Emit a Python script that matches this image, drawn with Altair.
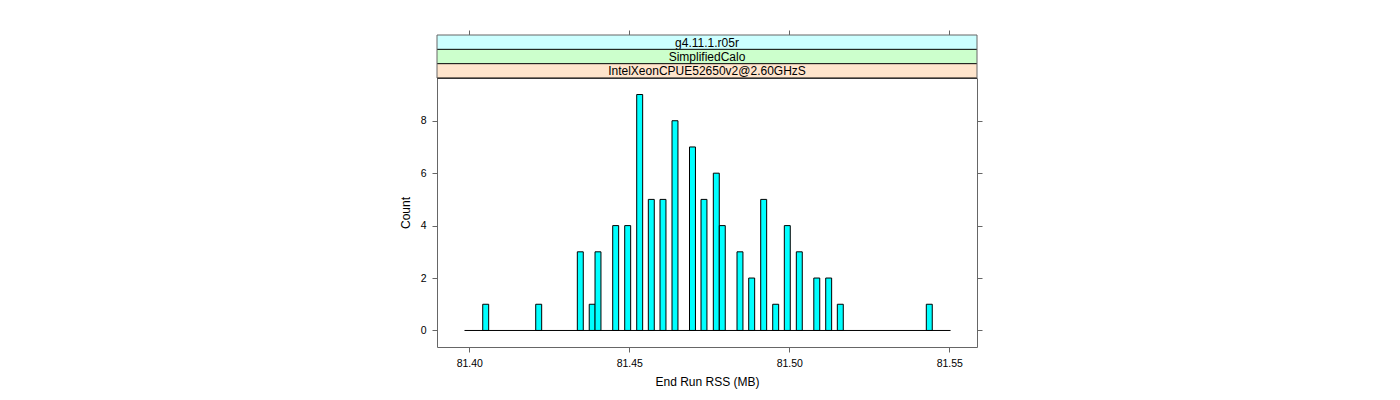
import altair as alt
import pandas as pd

# ---- data ----
bin_centers = [81.40513, 81.42169, 81.43469, 81.43841, 81.44022, 81.44575, 81.44950,
               81.45325, 81.45688, 81.46053, 81.46428, 81.46975, 81.47334, 81.47719,
               81.47906, 81.48459, 81.48825, 81.49200, 81.49575, 81.49938, 81.50313,
               81.50859, 81.51231, 81.51594, 81.54375]
counts = [1, 1, 3, 1, 3, 4, 4, 9, 5, 5, 8, 7, 5, 6, 4, 3, 2, 5, 1, 4, 3, 2, 2, 1, 1]
bin_width = 0.00186
breaks_range = [81.3985, 81.5504]
x_ticks = [81.40, 81.45, 81.50, 81.55]
y_ticks = [0, 2, 4, 6, 8]
x_domain = [81.38991, 81.55866]
y_domain = [-0.63, 9.63]
strip_labels = ["g4.11.1.r05r", "SimplifiedCalo", "IntelXeonCPUE52650v2@2.60GHzS"]
strip_colors = ["#ccffff", "#ccffcc", "#ffe5cc"]

W, H = 540, 269
STRIP_H = 43 / 3.0
FRAME = "#666666"
FONT = "Liberation Sans"

bars_df = pd.DataFrame({"center": bin_centers, "count": counts})
bars_df["left"] = bars_df["center"] - bin_width / 2
bars_df["right"] = bars_df["center"] + bin_width / 2
bars_df["zero"] = 0

base_df = pd.DataFrame({"x": [breaks_range[0]], "x2": [breaks_range[1]], "y": [0]})

xs = alt.Scale(domain=x_domain, nice=False, zero=False)
ys = alt.Scale(domain=y_domain, nice=False, zero=False)

bars = alt.Chart(bars_df).mark_bar(
    fill="#00ffff", stroke="black", strokeWidth=1
).encode(
    x=alt.X("left:Q", scale=xs,
            axis=alt.Axis(orient="bottom", values=x_ticks, format=".2f", title="End Run RSS (MB)",
                          tickSize=5, labelPadding=6, domain=False, grid=False,
                          titlePadding=8)),
    x2="right:Q",
    y=alt.Y("count:Q", scale=ys,
            axis=alt.Axis(orient="left", values=y_ticks, title="Count", tickSize=5,
                          labelPadding=6, domain=False, grid=False, labelAngle=0,
                          titlePadding=8)),
    y2="zero:Q",
)

baseline = alt.Chart(base_df).mark_rule(color="black", strokeWidth=1).encode(
    x=alt.X("x:Q", scale=xs,
            axis=alt.Axis(orient="top", values=x_ticks, labels=False, title=None, tickSize=5,
                          domain=False, grid=False, offset=43)),
    x2="x2:Q",
    y=alt.Y("y:Q", scale=ys,
            axis=alt.Axis(orient="right", values=y_ticks, labels=False, title=None, tickSize=5,
                          domain=False, grid=False)),
)

layers = [bars, baseline]
one = pd.DataFrame({"a": [0]})
for i, (lab, col) in enumerate(zip(strip_labels, strip_colors)):
    top = -43 + i * STRIP_H
    rect = alt.Chart(one).mark_rect(fill=col, strokeWidth=0).encode(
        x=alt.value(0), x2=alt.value(W), y=alt.value(top), y2=alt.value(top + STRIP_H)
    )
    txt = alt.Chart(one).mark_text(font=FONT, fontSize=12, color="black",
                                   align="center", baseline="middle").encode(
        x=alt.value(W / 2), y=alt.value(top + STRIP_H / 2 + 0.5), text=alt.value(lab)
    )
    layers += [rect, txt]

# strip separators (black) and outer strip sides (gray)
for i in range(1, 4):
    yy = -43 + i * STRIP_H
    layers.append(alt.Chart(one).mark_rule(color="black", strokeWidth=1).encode(
        x=alt.value(0), x2=alt.value(W), y=alt.value(yy)))
layers.append(alt.Chart(one).mark_rule(color=FRAME, strokeWidth=1).encode(
    x=alt.value(0), x2=alt.value(W), y=alt.value(-43)))
for xx in [0, W]:
    layers.append(alt.Chart(one).mark_rule(color=FRAME, strokeWidth=1).encode(
        x=alt.value(xx), y=alt.value(-43), y2=alt.value(0)))

chart = alt.layer(*layers).resolve_scale(x="independent", y="independent").properties(
    width=W, height=H,
    autosize=alt.AutoSizeParams(type="none"),
    padding={"left": 437, "top": 78, "right": 1400 - 437 - W, "bottom": 400 - 78 - H},
).configure_view(stroke=FRAME, strokeWidth=1).configure_axis(
    labelFont=FONT, titleFont=FONT, labelFontSize=10.5, titleFontSize=12,
    titleFontWeight="normal", labelColor="black", titleColor="black",
    tickColor=FRAME, tickWidth=1,
)

chart.save("out.html", embed_options={"renderer": "svg", "actions": False})
